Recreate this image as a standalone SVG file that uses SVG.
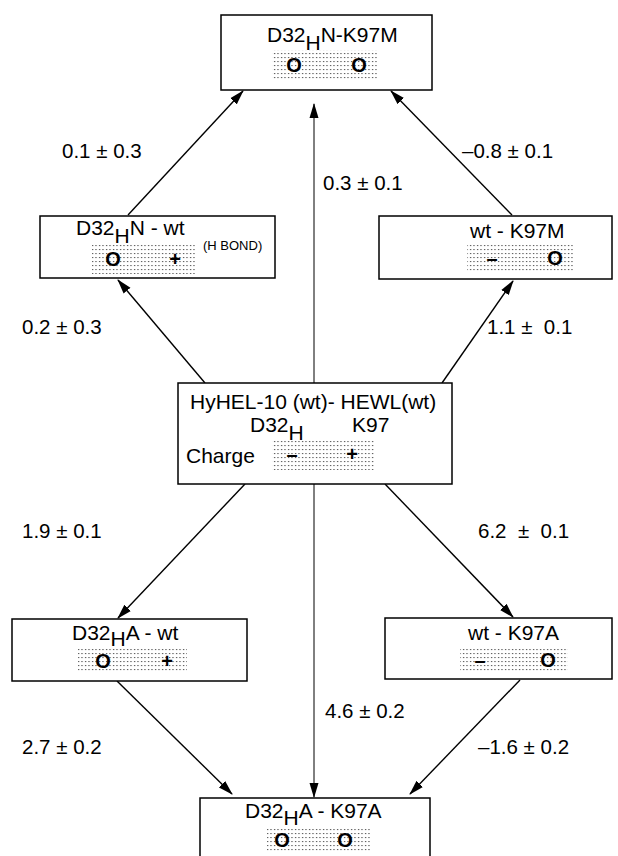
<svg xmlns="http://www.w3.org/2000/svg" width="618" height="856" viewBox="0 0 618 856">
<style>
.box{fill:#fff;stroke:#000;stroke-width:1.5}
.t{font-family:"Liberation Sans",Arial,sans-serif;font-size:21px;fill:#000}
.lbl{font-family:"Liberation Sans",Arial,sans-serif;font-size:20.5px;fill:#000}
.sym{font-family:"Liberation Sans",Arial,sans-serif;font-size:20px;font-weight:bold;fill:#000}
.sm{font-family:"Liberation Sans",Arial,sans-serif;font-size:13px;fill:#000}
.dots{fill:url(#dotpat)}
.c{stroke:#000;stroke-width:1.4;fill:none;marker-end:url(#ah)}
.cv{stroke:#000;stroke-width:1;fill:none;marker-end:url(#ah)}
</style>
<defs>
<pattern id="dotpat" width="3.5" height="4" patternUnits="userSpaceOnUse">
<rect x="1" y="1" width="1.1" height="1.1" fill="#333"/>
</pattern>
<marker id="ah" markerUnits="userSpaceOnUse" markerWidth="15" markerHeight="10" refX="14" refY="5" orient="auto">
<path d="M0,0.5 L15,5 L0,9.5 Z" fill="#000"/>
</marker>
</defs>

<g id="connectors">
<line class="c" x1="128" y1="215" x2="243" y2="91"/>
<line class="c" x1="512" y1="215" x2="391" y2="91"/>
<line class="cv" x1="314" y1="383" x2="314" y2="104"/>
<line class="c" x1="205" y1="383" x2="118" y2="280"/>
<line class="c" x1="442" y1="383" x2="513" y2="281"/>
<line class="c" x1="245" y1="484" x2="118" y2="618"/>
<line class="c" x1="385" y1="484" x2="513" y2="617"/>
<line class="cv" x1="314" y1="484" x2="314" y2="797"/>
<line class="c" x1="117" y1="681" x2="232" y2="794"/>
<line class="c" x1="520" y1="680" x2="410" y2="794"/>
</g>

<g id="labels">
<text class="lbl" x="62" y="158">0.1 ± 0.3</text>
<text class="lbl" x="462" y="158">–0.8 ± 0.1</text>
<text class="lbl" x="323" y="190">0.3 ± 0.1</text>
<text class="lbl" x="22" y="334">0.2 ± 0.3</text>
<text class="lbl" x="487" y="334" xml:space="preserve">1.1 ±  0.1</text>
<text class="lbl" x="22" y="538">1.9 ± 0.1</text>
<text class="lbl" x="478" y="538" xml:space="preserve">6.2  ±  0.1</text>
<text class="lbl" x="325" y="718">4.6 ± 0.2</text>
<text class="lbl" x="22" y="754">2.7 ± 0.2</text>
<text class="lbl" x="478" y="754">–1.6 ± 0.2</text>
</g>

<g id="node-top">
<rect class="box" x="221" y="15" width="211" height="75"/>
<text class="t" x="267" y="42">D32<tspan dy="8">H</tspan><tspan dy="-8">N-K97M</tspan></text>
<rect class="dots" x="272" y="50" width="105" height="29"/>
<text class="sym" x="294" y="72" text-anchor="middle">O</text>
<text class="sym" x="359" y="72" text-anchor="middle">O</text>
</g>

<g id="node-left">
<rect class="box" x="40" y="216" width="235" height="62"/>
<text class="t" x="76" y="235">D32<tspan dy="8">H</tspan><tspan dy="-8">N - wt</tspan></text>
<rect class="dots" x="92" y="245" width="103" height="29"/>
<text class="sym" x="113" y="266" text-anchor="middle">O</text>
<text class="sym" x="175" y="266" text-anchor="middle">+</text>
<text class="sm" x="203" y="250">(H BOND)</text>
</g>

<g id="node-right">
<rect class="box" x="379" y="216" width="233" height="63"/>
<text class="t" x="470" y="238">wt - K97M</text>
<rect class="dots" x="467" y="243" width="106" height="29"/>
<text class="sym" x="492" y="265" text-anchor="middle">–</text>
<text class="sym" x="555" y="265" text-anchor="middle">O</text>
</g>

<g id="node-center">
<rect class="box" x="178" y="383" width="274" height="101"/>
<text class="t" x="190" y="409">HyHEL-10 (wt)- HEWL(wt)</text>
<text class="t" x="250" y="432">D32<tspan dy="8">H</tspan></text>
<text class="t" x="352" y="432">K97</text>
<text class="t" x="186" y="463">Charge</text>
<rect class="dots" x="272" y="440" width="103" height="30"/>
<text class="sym" x="292" y="461" text-anchor="middle">–</text>
<text class="sym" x="352" y="461" text-anchor="middle">+</text>
</g>

<g id="node-bottom-left">
<rect class="box" x="12" y="619" width="235" height="62"/>
<text class="t" x="72" y="640">D32<tspan dy="6">H</tspan><tspan dy="-6">A - wt</tspan></text>
<rect class="dots" x="78" y="648" width="109" height="25"/>
<text class="sym" x="103" y="668" text-anchor="middle">O</text>
<text class="sym" x="167" y="668" text-anchor="middle">+</text>
</g>

<g id="node-bottom-right">
<rect class="box" x="385" y="618" width="227" height="61"/>
<text class="t" x="468" y="640">wt - K97A</text>
<rect class="dots" x="460" y="647" width="108" height="25"/>
<text class="sym" x="480" y="667" text-anchor="middle">–</text>
<text class="sym" x="548" y="667" text-anchor="middle">O</text>
</g>

<g id="node-bottom">
<rect class="box" x="200" y="798" width="230" height="70"/>
<text class="t" x="245" y="818">D32<tspan dy="7">H</tspan><tspan dy="-7">A - K97A</tspan></text>
<rect class="dots" x="267" y="827" width="103" height="26"/>
<text class="sym" x="282" y="847" text-anchor="middle">O</text>
<text class="sym" x="345" y="847" text-anchor="middle">O</text>
</g>
</svg>
